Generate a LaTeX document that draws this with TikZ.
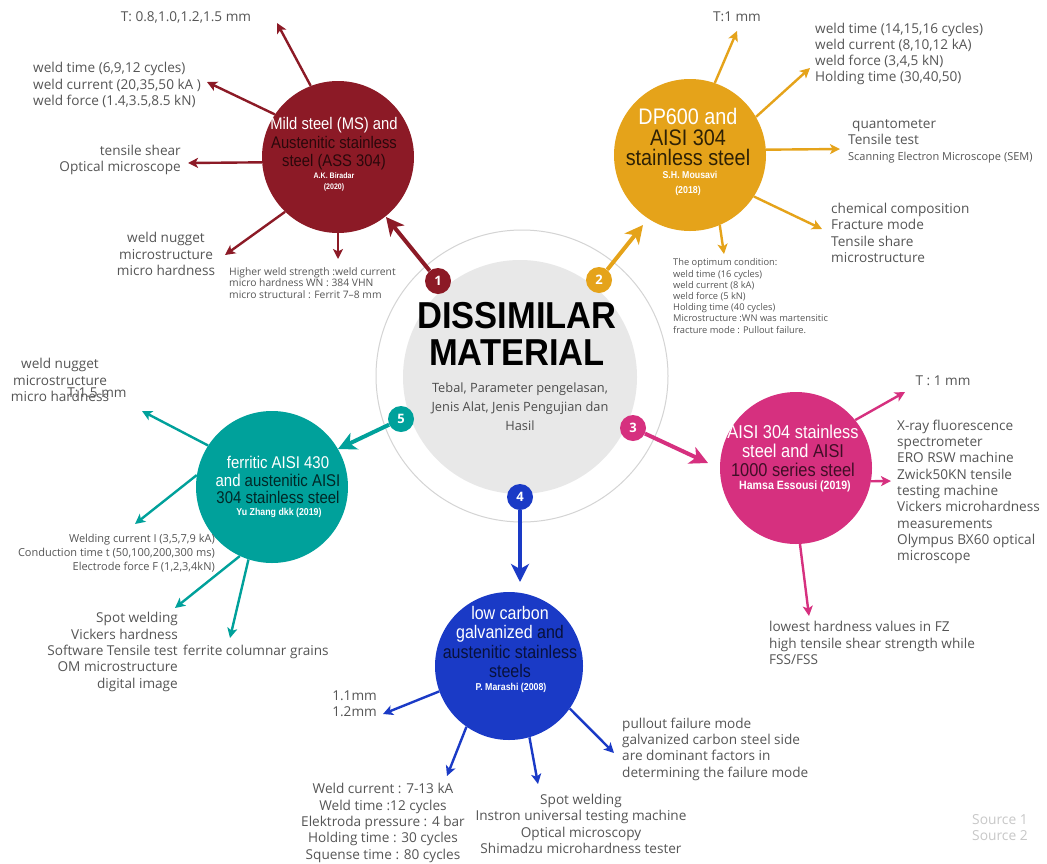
\documentclass[tikz,border=0pt]{standalone}
\usepackage{fontspec}
\setmainfont{Open Sans}
\newfontfamily\cond[FakeStretch=0.88]{Liberation Sans}
\newfontfamily\titlefont[FakeStretch=0.92]{Liberation Sans}
\usetikzlibrary{arrows.meta}
\definecolor{cRed}{HTML}{8C1A26}
\definecolor{cOra}{HTML}{E5A31A}
\definecolor{cTea}{HTML}{00A19B}
\definecolor{cPin}{HTML}{D6307F}
\definecolor{cBlu}{HTML}{1A3AC6}
\definecolor{txtgray}{HTML}{555555}
\definecolor{ring}{HTML}{D4D4D4}
\definecolor{disk}{HTML}{E8E8E8}
\definecolor{srcgray}{HTML}{C8C8C8}
\colorlet{rdk}{cRed!30!black}
\colorlet{odk}{cOra!20!black}
\colorlet{tdk}{cTea!25!black}
\colorlet{pdk}{cPin!30!black}
\colorlet{bdk}{cBlu!30!black}
\begin{document}
\begin{tikzpicture}[x=1pt,y=-1pt,
  lbl/.style={text=txtgray, font=\fontsize{13.6}{16.3}\selectfont, inner sep=0pt},
  sml/.style={text=txtgray, font=\fontsize{10.3}{11.5}\selectfont, inner sep=0pt},
  arr/.style={line width=2.4pt, -{Stealth[length=10pt,width=10pt,inset=2.5pt]}},
  bigarr/.style={line width=4pt, -{Stealth[length=18pt,width=18pt,inset=5pt]}},
  disc/.style={circle, minimum size=152pt, inner sep=0pt},
  badge/.style={circle, minimum size=26pt, inner sep=0pt, text=white, font=\bfseries\fontsize{13}{13}\selectfont},
  ctitle/.style={text=white, align=center, inner sep=0pt},
  author/.style={text=white, align=center, inner sep=0pt, font=\cond\bfseries\fontsize{10}{12}\selectfont}]
\useasboundingbox (0,0) rectangle (1047,863);
\fill[white] (0,0) rectangle (1047,863);

% centre
\node[circle, draw=ring, line width=1pt, minimum size=292pt, inner sep=0pt] (ringc) at (522,376) {};
\node[circle, fill=disk, minimum size=234pt, inner sep=0pt] (center) at (520,377) {};
\node[align=center, inner sep=0pt, font=\titlefont\bfseries\fontsize{37.5}{37}\selectfont] (title) at (517,334) {DISSIMILAR\\MATERIAL};
\node[align=center, inner sep=0pt, text=black!70, font=\fontsize{12.8}{19}\selectfont] (sub) at (520,407) {Tebal, Parameter pengelasan,\\Jenis Alat, Jenis Pengujian dan\\Hasil};

% material discs
\node[disc, fill=cRed] (red) at (338,157) {};
\node[disc, fill=cOra] (ora) at (690,155) {};
\node[disc, fill=cTea] (tea) at (272,487) {};
\node[disc, fill=cPin] (pin) at (796,468) {};
\node[disc, fill=cBlu, minimum size=148pt] (blu) at (509,666) {};

\node[ctitle, font=\cond\fontsize{16.8}{18.5}\selectfont] (redt) at (334,144) {Mild steel (MS) and\\\textcolor{rdk}{Austenitic stainless}\\\textcolor{rdk}{steel (ASS 304)}};
\node[author, font=\cond\bfseries\fontsize{8}{11}\selectfont] (reda) at (334,182) {A.K. Biradar\\(2020)};

\node[ctitle, font=\cond\fontsize{22.5}{20.5}\selectfont] (orat) at (688,137) {DP600 and\\\textcolor{odk}{AISI 304}\\\textcolor{odk}{stainless steel}};
\node[author] (oraa) at (690,175) {S.H. Mousavi};
\node[author] (orab) at (688,191) {(2018)};

\node[ctitle, font=\cond\fontsize{17}{17.5}\selectfont] (teat) at (278,480) {ferritic AISI 430\\and \textcolor{tdk}{austenitic AISI}\\\textcolor{tdk}{304 stainless steel}};
\node[author] (teaa) at (279,513) {Yu Zhang dkk (2019)};

\node[ctitle, font=\cond\fontsize{18.6}{19}\selectfont] (pint) at (793,451) {AISI 304 stainless\\steel and \textcolor{pdk}{AISI}\\\textcolor{pdk}{1000 series steel}};
\node[author, font=\cond\bfseries\fontsize{12}{12}\selectfont] (pina) at (795,486) {Hamsa Essousi (2019)};

\node[ctitle, font=\cond\fontsize{18.2}{19.5}\selectfont] (blut) at (510,642) {low carbon\\galvanized \textcolor{bdk}{and}\\\textcolor{bdk}{austenitic stainless}\\\textcolor{bdk}{steels}};
\node[author] (blua) at (511,688) {P. Marashi (2008)};

% badges
\node[badge, fill=cRed] (b1) at (438,281) {1};
\node[badge, fill=cOra] (b2) at (599,280) {2};
\node[badge, fill=cPin] (b3) at (633,428) {3};
\node[badge, fill=cBlu] (b4) at (520,497) {4};
\node[badge, fill=cTea] (b5) at (401,419) {5};

\coordinate (t1) at (386,217);
\coordinate (t2) at (643,225);
\coordinate (t3) at (708,463);
\coordinate (t4) at (520,582);
\coordinate (t5) at (338,449);
\draw[bigarr, cRed] (b1) -- (t1);
\draw[bigarr, cOra] (b2) -- (t2);
\draw[bigarr, cPin] (b3) -- (t3);
\draw[bigarr, cBlu] (b4) -- (t4);
\draw[bigarr, cTea] (b5) -- (t5);

% ---- red branch
\node[lbl] (r1) at (186,17) {T: 0.8,1.0,1.2,1.5 mm};
\node[lbl, anchor=west, align=left] (r2) at (33,85) {weld time (6,9,12 cycles)\\weld current (20,35,50 kA )\\weld force (1.4,3.5,8.5 kN)};
\node[lbl, anchor=east, align=right] (r3) at (181,160) {tensile shear\\Optical microscope};
\node[lbl, align=center] (r4) at (166,254) {weld nugget\\microstructure\\micro hardness};
\node[sml, anchor=west, align=left] (r5) at (229,283) {Higher weld strength :weld current\\micro hardness WN : 384 VHN\\micro structural : Ferrit 7--8 mm};
\coordinate (r1a) at (277,23);
\coordinate (r2a) at (207,82);
\coordinate (r3a) at (188,163);
\coordinate (r4a) at (225,255);
\coordinate (r5a) at (338,259);
\draw[arr, cRed] (red.111) -- (r1a);
\draw[arr, cRed] (red.146) -- (r2a);
\draw[arr, cRed] (red.184) -- (r3a);
\draw[arr, cRed] (red.226) -- (r4a);
\draw[arr, cRed] (red.270) -- (r5a);

% ---- orange branch
\node[lbl] (o1) at (737,17) {T:1 mm};
\node[lbl, anchor=west, align=left] (o2) at (815,54) {weld time (14,15,16 cycles)\\weld current (8,10,12 kA)\\weld force (3,4,5 kN)\\Holding time (30,40,50)};
\node[lbl, anchor=west, align=left, font=\fontsize{13.6}{16}\selectfont] (o3) at (848,141) {\hspace{4pt}quantometer\\Tensile test\\{\fontsize{11}{12}\selectfont Scanning Electron Microscope (SEM)}};
\node[lbl, anchor=west, align=left] (o4) at (831,233) {chemical composition\\Fracture mode\\Tensile share\\microstructure};
\node[sml, anchor=west, align=left, font=\fontsize{9.3}{11.2}\selectfont] (o5) at (673,296) {The optimum condition:\\weld time (16 cycles)\\weld current (8 kA)\\weld force (5 kN)\\Holding time (40 cycles)\\Microstructure :WN was martensitic\\fracture mode : Pullout failure.};
\coordinate (o1a) at (737,31);
\coordinate (o2a) at (810,68);
\coordinate (o3a) at (840,149);
\coordinate (o4a) at (822,229);
\coordinate (o5a) at (724,254);
\draw[arr, cOra] (ora.71) -- (o1a);
\draw[arr, cOra] (ora.30) -- (o2a);
\draw[arr, cOra] (ora.4) -- (o3a);
\draw[arr, cOra] (ora.327) -- (o4a);
\draw[arr, cOra] (ora.293) -- (o5a);

% ---- teal branch
\node[lbl, align=center] (e1) at (60,380) {weld nugget\\microstructure\\micro hardness};
\node[lbl] (e1b) at (97,393) {T:1.5 mm};
\node[sml, anchor=east, align=right, font=\fontsize{11}{14}\selectfont] (e2) at (215,553) {Welding current I (3,5,7,9 kA)\\Conduction time t (50,100,200,300 ms)\\Electrode force F (1,2,3,4kN)};
\node[lbl, anchor=east, align=right] (e3) at (178,652) {Spot welding\\Vickers hardness\\Software Tensile test\\OM microstructure\\digital image};
\node[lbl, anchor=west] (e4) at (183,652) {ferrite columnar grains};
\coordinate (e1a) at (142,411);
\coordinate (e2a) at (135,524);
\coordinate (e3a) at (175,608);
\coordinate (e4a) at (230,638);
\draw[arr, cTea] (tea.147) -- (e1a);
\draw[arr, cTea] (tea.171) -- (e2a);
\draw[arr, cTea] (tea.245) -- (e3a);
\draw[arr, cTea] (tea.252) -- (e4a);

% ---- pink branch
\node[lbl] (p1) at (943,381) {T : 1 mm};
\node[lbl, anchor=west, align=left] (p2) at (897,492) {X-ray fluorescence\\spectrometer\\ERO RSW machine\\Zwick50KN tensile\\testing machine\\Vickers microhardness\\measurements\\Olympus BX60 optical\\microscope};
\node[lbl, anchor=west, align=left] (p3) at (769,643) {lowest hardness values in FZ\\high tensile shear strength while\\FSS/FSS};
\coordinate (p1a) at (905,392);
\coordinate (p2a) at (891,481);
\coordinate (p3a) at (809,616);
\draw[arr, cPin] (pin.39) -- (p1a);
\draw[arr, cPin] (pin.350) -- (p2a);
\draw[arr, cPin] (pin.273) -- (p3a);

% ---- blue branch
\node[lbl, anchor=east, align=right] (u1) at (377,704) {1.1mm\\1.2mm};
\node[lbl, align=center] (u2) at (383,823) {Weld current : 7-13 kA\\Weld time :12 cycles\\Elektroda pressure : 4 bar\\Holding time : 30 cycles\\Squense time : 80 cycles};
\node[lbl, align=center] (u3) at (581,824) {Spot welding\\Instron universal testing machine\\Optical microscopy\\Shimadzu microhardness tester};
\node[lbl, anchor=west, align=left] (u4) at (622,749) {pullout failure mode\\galvanized carbon steel side\\are dominant factors in\\determining the failure mode};
\coordinate (u1a) at (383,714);
\coordinate (u2a) at (447,776);
\coordinate (u3a) at (538,784);
\coordinate (u4a) at (614,753);
\draw[arr, cBlu] (blu.200) -- (u1a);
\draw[arr, cBlu] (blu.235) -- (u2a);
\draw[arr, cBlu] (blu.286) -- (u3a);
\draw[arr, cBlu] (blu.325) -- (u4a);

% sources
\node[anchor=west, align=left, inner sep=0pt, text=srcgray, font=\fontsize{13.8}{16}\selectfont] (src) at (972,828) {Source 1\\Source 2};
\end{tikzpicture}
\end{document}
